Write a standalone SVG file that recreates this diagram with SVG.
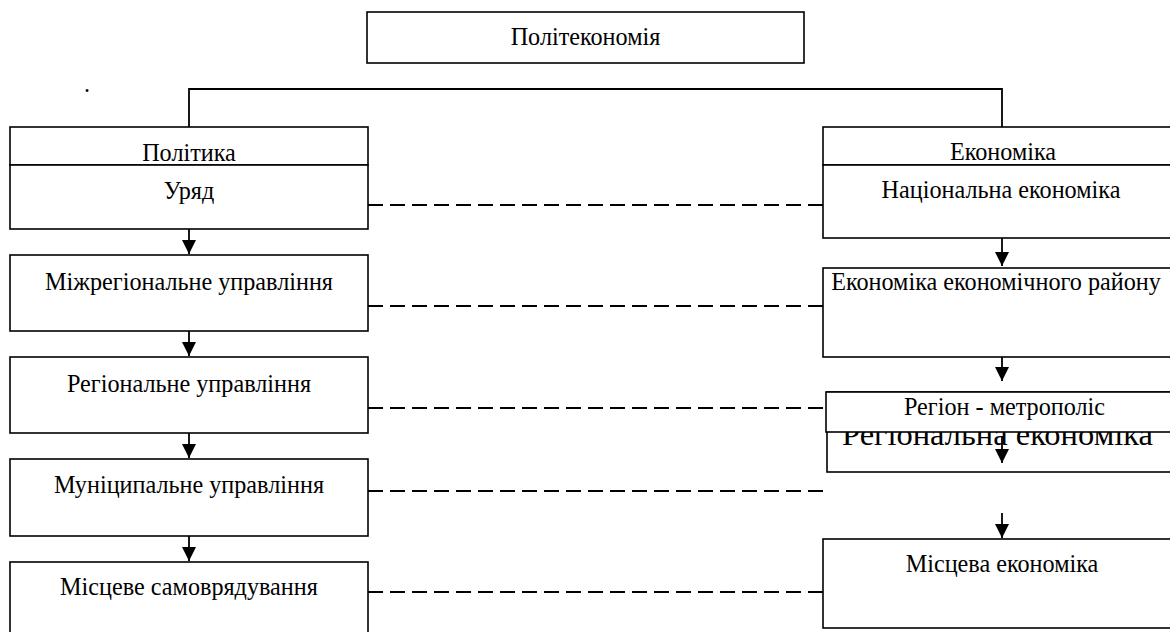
<svg xmlns="http://www.w3.org/2000/svg" width="1170" height="632" viewBox="0 0 1170 632">
<style>
.box{fill:#fff;stroke:#000;stroke-width:1.6}
.t{font-family:"Liberation Serif","Times New Roman",serif;font-size:24.2px;fill:#000;text-anchor:middle}
.big{font-size:32.5px}
.ln{fill:none;stroke:#000;stroke-width:1.8}
.dash{fill:none;stroke:#000;stroke-width:1.8;stroke-dasharray:15 7}
</style>
<defs>
<marker id="ah" viewBox="0 0 14 14" refX="14" refY="7" markerWidth="14" markerHeight="14" markerUnits="userSpaceOnUse" orient="auto">
<path d="M0,0 L14,7 L0,14 z" fill="#000"/>
</marker>
</defs>
<rect width="1170" height="632" fill="#fff"/>
<text class="t" x="87" y="92">.</text>
<g id="n-politeconomy"><rect class="box" x="367" y="12" width="437" height="51"/><text class="t" x="585.5" y="45">Політекономія</text></g>
<g id="n-polityka"><rect class="box" x="10" y="127" width="358" height="38"/><text class="t" x="189" y="161">Політика</text></g>
<g id="n-uriad"><rect class="box" x="10" y="165" width="358" height="64"/><text class="t" x="189" y="199">Уряд</text></g>
<g id="n-mizhreg"><rect class="box" x="10" y="255" width="358" height="76"/><text class="t" x="189" y="290">Міжрегіональне управління</text></g>
<g id="n-reg"><rect class="box" x="10" y="357" width="358" height="76"/><text class="t" x="189" y="392">Регіональне управління</text></g>
<g id="n-munic"><rect class="box" x="10" y="459" width="358" height="77"/><text class="t" x="189" y="493">Муніципальне управління</text></g>
<g id="n-mistseve"><rect class="box" x="10" y="562" width="358" height="80"/><text class="t" x="189" y="595">Місцеве самоврядування</text></g>
<g id="n-ekonomika"><rect class="box" x="823" y="127" width="354" height="38"/><text class="t" x="1003" y="160">Економіка</text></g>
<g id="n-natsek"><rect class="box" x="823" y="165" width="354" height="73"/><text class="t" x="1001" y="198">Національна економіка</text></g>
<g id="n-ekraion"><rect class="box" x="823" y="268" width="354" height="89"/><text class="t" x="996" y="290">Економіка економічного району</text></g>
<g id="n-regek"><rect class="box" x="827" y="392" width="350" height="80"/><text class="t big" x="997.5" y="445">Регіональна економіка</text></g>
<g id="n-metropolis"><rect class="box" x="826" y="392" width="351" height="40"/><text class="t" x="1004.5" y="415">Регіон - метрополіс</text></g>
<g id="n-mistsek"><rect class="box" x="823" y="539" width="354" height="89"/><text class="t" x="1002" y="572">Місцева економіка</text></g>
<g id="connectors">
<path class="ln" d="M189,127 V89 H1002 V127"/>
<line class="ln" x1="189" y1="229" x2="189" y2="254" marker-end="url(#ah)"/>
<line class="ln" x1="189" y1="331" x2="189" y2="356" marker-end="url(#ah)"/>
<line class="ln" x1="189" y1="433" x2="189" y2="458" marker-end="url(#ah)"/>
<line class="ln" x1="189" y1="536" x2="189" y2="561" marker-end="url(#ah)"/>
<line class="ln" x1="1002" y1="238" x2="1002" y2="266" marker-end="url(#ah)"/>
<line class="ln" x1="1002" y1="357" x2="1002" y2="381" marker-end="url(#ah)"/>
<line class="ln" x1="1002" y1="436" x2="1002" y2="463" marker-end="url(#ah)"/>
<line class="ln" x1="1002" y1="513" x2="1002" y2="538" marker-end="url(#ah)"/>
<line class="dash" x1="368" y1="205" x2="823" y2="205"/>
<line class="dash" x1="368" y1="306" x2="823" y2="306"/>
<line class="dash" x1="368" y1="408" x2="826" y2="408"/>
<line class="dash" x1="368" y1="491" x2="825" y2="491"/>
<line class="dash" x1="368" y1="592" x2="823" y2="592"/>
</g>
</svg>
